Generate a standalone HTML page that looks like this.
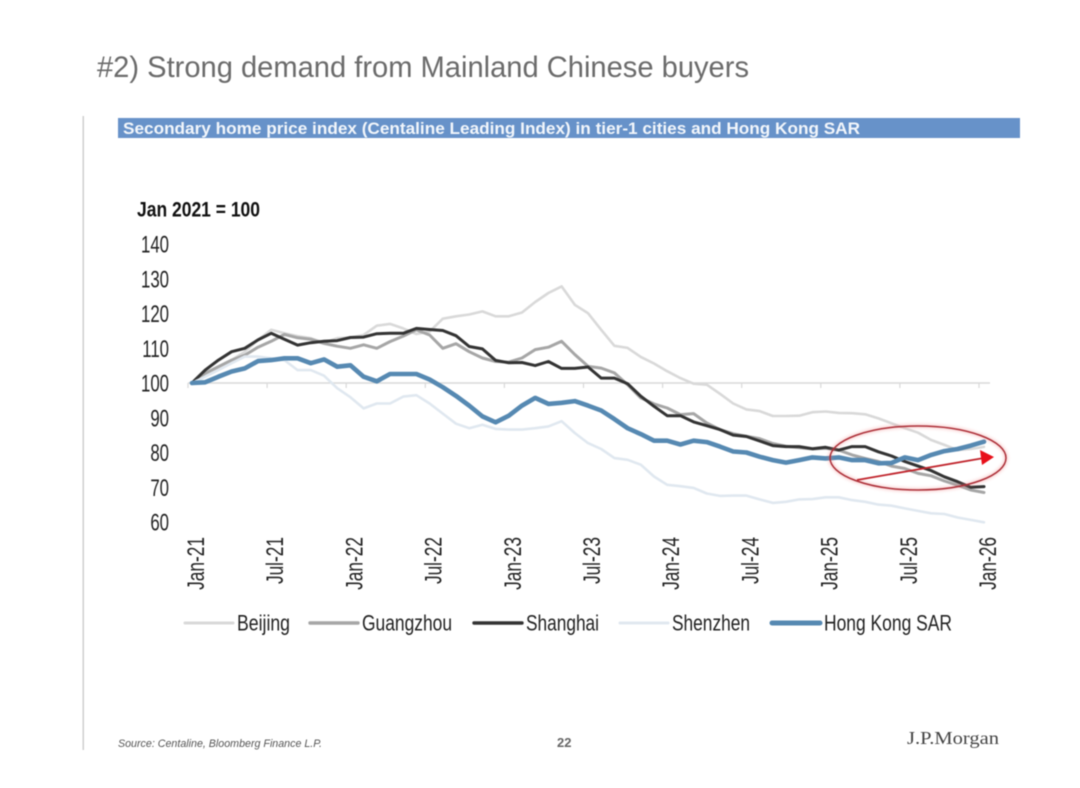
<!DOCTYPE html>
<html lang="en">
<head>
<meta charset="utf-8">
<title>Strong demand from Mainland Chinese buyers</title>
<style>
html,body{margin:0;padding:0;background:#fff;width:1080px;height:788px;overflow:hidden}
svg{display:block;font-family:"Liberation Sans",Arial,sans-serif;filter:blur(0.4px)}
</style>
</head>
<body>
<svg id="slide" width="1080" height="788" viewBox="0 0 1080 788">
  <defs>
    <filter id="glow" x="-10%" y="-20%" width="120%" height="140%"><feGaussianBlur stdDeviation="1.6"/></filter>
  </defs>
  <rect x="0" y="0" width="1080" height="788" fill="#ffffff"/>
  <text x="97" y="77" font-size="29.8" fill="#6b6b6b" textLength="652" lengthAdjust="spacingAndGlyphs">#2) Strong demand from Mainland Chinese buyers</text>
  <rect x="82.5" y="116" width="1.5" height="634" fill="#cfcfcf"/>
  <rect x="118" y="118" width="902" height="20" fill="#6792c9"/>
  <text x="123" y="134" font-size="16.9" font-weight="bold" fill="#f2f6fb" textLength="737" lengthAdjust="spacingAndGlyphs">Secondary home price index (Centaline Leading Index) in tier-1 cities and Hong Kong SAR</text>
  <text x="137" y="216.5" font-size="21" font-weight="bold" fill="#111" textLength="123" lengthAdjust="spacingAndGlyphs">Jan 2021 = 100</text>

  <g id="chart"></g>

  <g>
    <ellipse cx="918" cy="458" rx="88" ry="32" fill="none" stroke="#f08080" stroke-width="3.5" opacity="0.4" filter="url(#glow)"/>
    <ellipse cx="918" cy="458" rx="88" ry="32" fill="none" stroke="#ac2f38" stroke-width="1.5"/>
    <line x1="857" y1="480" x2="984" y2="458" stroke="#c0242c" stroke-width="1.8"/>
    <polygon points="994,457 980,450 982,465" fill="#e8101a"/>
  </g>

  <g id="legend"></g>

  <text x="118" y="747" font-size="10.7" font-style="italic" fill="#555" textLength="204" lengthAdjust="spacingAndGlyphs">Source: Centaline, Bloomberg Finance L.P.</text>
  <text x="557" y="747" font-size="13" font-weight="bold" fill="#666">22</text>
  <text x="907" y="744" font-size="18" fill="#444" textLength="92" lengthAdjust="spacingAndGlyphs" style='font-family:"Liberation Serif",serif'>J.P.Morgan</text>
</svg>

<script>
const xTickLabels = ["Jan-21","Jul-21","Jan-22","Jul-22","Jan-23","Jul-23","Jan-24","Jul-24","Jan-25","Jul-25","Jan-26"];
const yTickValues = [140,130,120,110,100,90,80,70,60];
const monthsPerTick = 6;

const beijing = [100,102.3,104.2,106.6,109,112.4,115.3,114.3,113.5,112.9,111.6,112.9,113.1,113.8,116.5,117,115.7,114.1,114.8,118.5,119.2,119.7,120.6,119.2,119.2,120.3,123.3,125.9,127.8,122.5,120.1,115.3,110.7,110.1,107.5,105.6,103.4,101.4,99.8,99.5,96.9,94.1,92.4,91.9,90.5,90.5,90.6,91.6,91.8,91.4,91.3,91,89.8,88.4,87,85.7,83.6,82.2,80.7,81,81.6];
const guangzhou = [100,102.8,104.7,106.6,108,110.3,112,114,113,112.6,111.4,110.6,110,111,110,111.9,113.5,115.3,113.8,110,111.3,109,107.2,106.2,106,107.2,109.6,110.3,112,108.2,104.8,104.3,102.9,99.5,95.7,94,92.8,90.9,91.2,88.5,86.6,85.4,84.7,84,82.6,81.8,81.4,81,81.2,80.7,79.3,78.3,77.4,76.1,75.4,74,73.3,71.8,70.6,69.2,68.5];
const shanghai = [100,103.7,106.6,109,110,112.4,114.3,112.6,110.9,111.6,112,112.2,113.1,113.2,114.2,114.3,114.3,115.7,115.4,115.1,113.6,110.5,109.8,106.5,105.8,105.9,105,106.2,104.2,104.2,104.6,101.4,101.4,99.8,96.2,93.3,90.6,90.6,88.8,87.7,86.6,85,84.6,83.3,82,81.7,81.7,81.1,81.5,80.7,81.7,81.7,80.2,79,77.4,76.1,74.8,73,71.6,70,70.2];
const shenzhen = [100,101.8,103.7,105.7,107.6,107.6,107.1,106.6,103.7,103.7,102.1,98.5,95.9,92.7,94.1,94.1,96.1,96.5,94.1,91.2,88.3,87,88,86.8,86.6,86.6,87,87.5,89,85.6,82.7,81,78.4,77.9,76.5,73.1,70.7,70.3,69.8,68.2,67.5,67.6,67.6,66.5,65.5,65.8,66.5,66.6,67.1,67.1,66.3,65.8,65,64.7,63.9,63.2,62.5,62.3,61.3,60.6,59.9];
const hongKong = [100,100.2,101.8,103.3,104.2,106.3,106.6,107.1,107.1,105.7,106.8,104.7,105.1,101.8,100.5,102.6,102.6,102.6,101,98.8,96.3,93.5,90.4,88.7,90.6,93.5,95.7,94,94.3,94.8,93.5,92.1,89.6,87,85.3,83.4,83.4,82.3,83.4,83,81.7,80.3,80,78.8,77.8,77.1,77.8,78.6,78.3,78.6,77.8,77.8,76.9,77,78.6,77.8,79.3,80.4,81,82,83.1];

const seriesNames = ["Beijing","Guangzhou","Shanghai","Shenzhen","Hong Kong SAR"];
const seriesValues = [beijing,guangzhou,shanghai,shenzhen,hongKong];
const seriesColors = ["#d9d9d9","#a6a6a6","#333333","#e0e8f0","#5689b2"];
const seriesWidths = [2.6,3,3,2.6,4.6];
const legendTextWidths = [53,90,73,78,128];

const NS = "http://www.w3.org/2000/svg";
const chart = document.getElementById("chart");
const legend = document.getElementById("legend");

function xScale(i){ return 192 + i * 13.2; }
function yScale(v){ return 383 - (v - 100) * 3.475; }
function make(tag, attrs, parent){
  const el = document.createElementNS(NS, tag);
  for (const k in attrs) el.setAttribute(k, attrs[k]);
  parent.appendChild(el);
  return el;
}
function slug(s){ return s.toLowerCase().replace(/[^a-z0-9]+/g, "-"); }

/* y tick labels */
yTickValues.forEach(function(v){
  const t = make("text", {"text-anchor":"end","font-size":24,fill:"#222",
    transform:"translate(169 " + (yScale(v) + 8.5) + ") scale(0.7 1)"}, chart);
  
  
  t.textContent = v;
});

/* axis at 100 */
const axis = make("line", {x1:xScale(0)-4,x2:xScale(60)+6,y1:yScale(100),y2:yScale(100),stroke:"#d9d9d9","stroke-width":1.5}, chart);



/* x ticks and labels */
xTickLabels.forEach(function(label, n){
  const i = n * monthsPerTick;
  const tx = xScale(i) - 4 - n * 0.1;
  const tick = make("line", {x1:tx,x2:tx,y1:yScale(100),y2:yScale(100)+5,stroke:"#d9d9d9","stroke-width":1.2}, chart);
  
  
  const lx = xScale(i) + 12;
  const t = make("text", {"font-size":24,fill:"#222","text-anchor":"end",
    transform:"translate(" + lx + " 537) rotate(-90) scale(0.72 1)"}, chart);
  
  
  t.textContent = label;
});

/* series */
seriesValues.forEach(function(values, s){
  const d = values.map(function(v, i){
    return (i ? "L" : "M") + xScale(i).toFixed(1) + " " + yScale(v).toFixed(1);
  }).join(" ");
  const p = make("path", {d:d,fill:"none",stroke:seriesColors[s],"stroke-width":seriesWidths[s],"stroke-linejoin":"round","stroke-linecap":"round"}, chart);
  
  
});

/* legend */
const legendStarts = [185,310,474,620,772];
seriesNames.forEach(function(name, s){
  const x0 = legendStarts[s];
  const g = make("g", {}, legend);
  
  
  const swatch = make("line", {x1:x0,x2:x0+48,y1:623,y2:623,stroke:seriesColors[s],"stroke-width":seriesWidths[s]+0.4,"stroke-linecap":"round"}, g);
  
  
  const t = make("text", {x:x0+52,y:630.5,"font-size":22,fill:"#222",textLength:legendTextWidths[s],lengthAdjust:"spacingAndGlyphs"}, g);
  
  
  t.textContent = name;
});
</script>
</body>
</html>
